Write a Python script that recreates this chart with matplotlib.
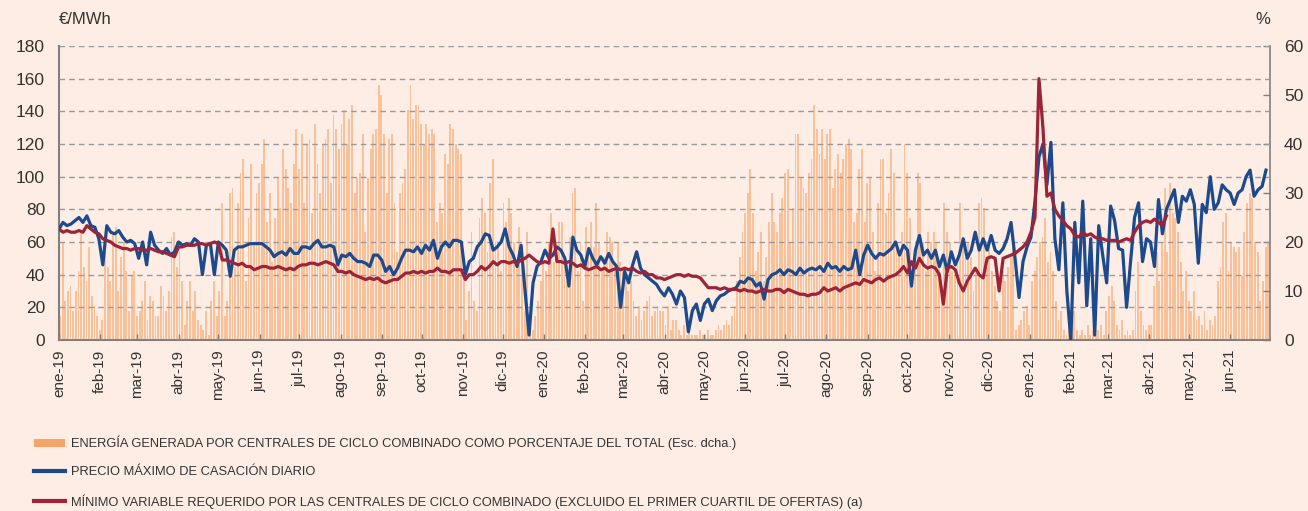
import numpy as np
import pandas as pd
import matplotlib
matplotlib.use("Agg")
import matplotlib.pyplot as plt
from matplotlib.patches import Patch
from matplotlib.lines import Line2D

# ---------------- DATA ----------------
# Daily max clearing price (EUR/MWh), sampled every 3 days from 2019-01-01
precio_max = [
    68, 72, 70, 71, 73, 75, 72, 76, 70, 69,
    62, 46, 70, 66, 65, 67, 63, 60, 61, 59,
    50, 60, 46, 66, 58, 55, 53, 56, 52, 54,
    60, 58, 59, 58, 62, 60, 40, 58, 59, 40,
    60, 58, 55, 39, 55, 57, 57, 58, 59, 59,
    59, 59, 57, 55, 51, 53, 54, 52, 56, 53,
    53, 57, 57, 56, 59, 61, 57, 57, 58, 57,
    46, 52, 51, 53, 50, 48, 48, 47, 45, 52,
    52, 49, 42, 45, 40, 44, 50, 55, 55, 54,
    57, 53, 58, 55, 61, 50, 57, 60, 57, 61,
    61, 60, 40, 48, 50, 57, 60, 65, 64, 55,
    57, 60, 68, 57, 52, 45, 58, 30, 3, 35,
    45, 48, 55, 50, 52, 57, 55, 50, 33, 63,
    55, 52, 45, 56, 50, 46, 51, 47, 53, 48,
    45, 20, 42, 35, 46, 54, 44, 40, 38, 36,
    34, 30, 27, 32, 28, 22, 30, 26, 5, 18,
    22, 12, 22, 25, 18, 24, 27, 28, 30, 31,
    32, 36, 35, 38, 37, 33, 35, 25, 37, 40,
    41, 43, 40, 43, 42, 40, 44, 41, 43, 44,
    43, 45, 42, 47, 44, 45, 42, 45, 43, 44,
    55, 40, 52, 58, 53, 50, 53, 52, 54, 56,
    60, 52, 58, 55, 33, 55, 64, 52, 55, 50,
    55, 45, 52, 42, 54, 46, 52, 62, 50, 55,
    66, 55, 62, 55, 64, 55, 53, 56, 62, 72,
    50, 26, 48, 57, 63, 85, 112, 120, 95, 121,
    62, 43, 84, 30, 0, 72, 35, 85, 21, 62,
    3, 70, 52, 35, 82, 73, 56, 55, 20, 48,
    75, 84, 48, 62, 60, 45, 86, 65, 80, 86,
    92, 72, 88, 85, 92, 83, 47, 83, 78, 100,
    80, 84, 95, 92, 90, 83, 90, 92, 100, 104,
    88, 92, 94, 104,
]

# Minimum variable required by CCGT (EUR/MWh), sampled every 3 days from 2019-01-01
minimo_variable = [
    68, 66, 67, 66, 66, 67, 66, 70, 68, 66,
    65, 62, 61, 60, 58, 57, 56, 56, 55, 56,
    56, 55, 55, 56, 55, 54, 54, 53, 52, 51,
    57, 57, 58, 58, 58, 59, 59, 58, 59, 60,
    59, 49, 49, 48, 47, 46, 47, 45, 45, 43,
    44, 45, 45, 44, 44, 45, 44, 43, 44, 43,
    45, 46, 46, 47, 47, 46, 47, 48, 47, 46,
    42, 42, 41, 42, 40, 39, 38, 37, 38, 37,
    38, 36, 35, 36, 37, 37, 39, 41, 41, 42,
    41, 42, 41, 42, 42, 44, 42, 42, 41, 43,
    43, 43, 37, 40, 40, 42, 45, 43, 45, 48,
    46, 48, 48, 47, 48, 47, 49, 50, 52, 50,
    48, 47, 48, 47, 68, 48, 48, 47, 48, 47,
    45, 46, 44, 43, 44, 45, 43, 44, 42, 43,
    44, 43, 44, 43, 44, 42, 41, 42, 40, 40,
    38, 38, 37, 38, 39, 40, 40, 39, 40, 39,
    39, 38, 35, 32, 32, 32, 31, 32, 31, 31,
    31, 30, 31, 30, 30, 29, 30, 31, 30, 30,
    31, 31, 29, 31, 30, 29, 28, 28, 27, 28,
    28, 29, 32, 30, 31, 32, 30, 32, 33, 34,
    35, 34, 37, 36, 35, 37, 38, 36, 38, 39,
    40, 42, 45, 41, 48, 44, 50, 46, 44, 45,
    44, 40, 22, 44, 45, 43, 35, 30, 36, 40,
    44, 40, 38, 50, 51, 50, 30, 50, 51, 52,
    53, 55, 57, 60, 66, 75, 160, 130, 88, 90,
    80, 76, 73, 70, 68, 64, 63, 66, 64, 65,
    63, 62, 62, 61, 61, 61, 60, 61, 62, 61,
    66, 70, 72, 73, 72, 74, 72, 70, 76,
]

# CCGT share of total generation (%), sampled every 2 days from 2019-01-01
energia_ccgt = [
    5, 20, 8, 10, 11, 6, 10, 14, 22, 15, 12, 19, 9, 7, 5,
    2, 4, 18, 15, 12, 22, 23, 10, 17, 20, 14, 6, 13, 14, 5,
    6, 8, 12, 4, 9, 8, 5, 5, 11, 9, 6, 10, 21, 22, 15,
    20, 12, 3, 8, 12, 6, 10, 4, 3, 2, 6, 1, 8, 12, 5,
    10, 28, 5, 8, 30, 31, 15, 28, 34, 37, 12, 25, 36, 20, 30,
    32, 36, 41, 24, 30, 16, 25, 33, 27, 39, 35, 31, 28, 36, 43,
    35, 42, 28, 40, 41, 26, 44, 36, 30, 40, 41, 43, 32, 46, 43,
    39, 44, 47, 40, 45, 48, 30, 33, 34, 42, 22, 33, 39, 42, 43,
    52, 50, 42, 30, 41, 42, 28, 18, 30, 32, 35, 47, 52, 45, 48,
    48, 44, 40, 44, 42, 43, 42, 24, 28, 26, 38, 36, 44, 43, 40,
    39, 38, 15, 4, 10, 22, 8, 6, 25, 29, 26, 18, 32, 37, 20,
    20, 14, 28, 24, 29, 26, 20, 16, 23, 15, 6, 22, 5, 2, 5,
    8, 12, 16, 14, 20, 26, 16, 18, 24, 24, 16, 12, 21, 30, 31,
    14, 20, 8, 23, 18, 24, 19, 28, 20, 14, 17, 22, 21, 20, 15,
    20, 16, 14, 13, 10, 12, 8, 5, 7, 4, 6, 8, 9, 5, 6,
    7, 6, 6, 3, 7, 2, 4, 4, 2, 1, 3, 1, 2, 1, 1,
    1, 2, 1, 1, 2, 1, 1, 2, 3, 2, 3, 4, 3, 5, 7,
    12, 17, 22, 26, 30, 35, 26, 14, 18, 22, 12, 17, 24, 30, 24,
    22, 26, 29, 34, 35, 20, 27, 42, 42, 33, 31, 30, 34, 37, 48,
    43, 38, 43, 37, 42, 43, 31, 35, 38, 34, 37, 40, 41, 39, 24,
    26, 35, 39, 24, 32, 33, 22, 14, 28, 37, 37, 26, 30, 39, 34,
    20, 18, 22, 40, 34, 25, 14, 18, 34, 32, 20, 14, 22, 20, 22,
    20, 16, 9, 28, 22, 20, 14, 13, 17, 28, 21, 17, 20, 17, 10,
    14, 28, 29, 27, 15, 20, 14, 11, 8, 6, 14, 12, 15, 17, 19,
    2, 3, 4, 6, 7, 3, 12, 14, 17, 20, 21, 25, 16, 18, 14,
    8, 4, 6, 2, 1, 3, 10, 6, 2, 1, 2, 1, 3, 1, 2,
    1, 2, 3, 1, 6, 9, 11, 8, 3, 2, 4, 1, 2, 1, 2,
    10, 16, 6, 3, 2, 3, 3, 11, 18, 12, 20, 31, 18, 32, 26,
    25, 22, 16, 10, 14, 8, 6, 10, 4, 5, 3, 6, 2, 4, 3,
    5, 12, 15, 24, 26, 14, 20, 19, 18, 19, 13, 22, 28, 30, 29,
    20, 18, 8, 12, 19, 20,
]

meses = ["ene", "feb", "mar", "abr", "may", "jun", "jul", "ago", "sep", "oct", "nov", "dic"]
labels_leyenda = [
    "ENERGÍA GENERADA POR CENTRALES DE CICLO COMBINADO COMO PORCENTAJE DEL TOTAL (Esc. dcha.)",
    "PRECIO MÁXIMO DE CASACIÓN DIARIO",
    "MÍNIMO VARIABLE REQUERIDO POR LAS CENTRALES DE CICLO COMBINADO (EXCLUIDO EL PRIMER CUARTIL DE OFERTAS) (a)",
]

# ---------------- STYLE ----------------
BG = "#fdede5"
C_BAR = "#f6a468"
C_BLUE = "#1c4a8c"
C_RED = "#9c2439"
C_TXT = "#333333"
C_AX = "#7f7f7f"
FONT = ["Liberation Sans", "DejaVu Sans"]
plt.rcParams["font.family"] = FONT

start = pd.Timestamp("2019-01-01")
d_line_blue = pd.date_range(start, periods=len(precio_max), freq="3D")
d_line_red = pd.date_range(start, periods=len(minimo_variable), freq="3D")
d_bar = pd.date_range(start, periods=len(energia_ccgt), freq="2D")

W, H = 1308, 511
fig = plt.figure(figsize=(W / 100, H / 100), dpi=100, facecolor=BG)
L, R, T, B = 59, 1270, 46, 340
ax = fig.add_axes([L / W, 1 - B / H, (R - L) / W, (B - T) / H])
axr = ax.twinx()
ax.set_zorder(axr.get_zorder() + 1)
ax.patch.set_visible(False)
axr.set_facecolor(BG)

# bars (right scale)
axr.bar(d_bar, energia_ccgt, width=1.4, align="edge", color=C_BAR, alpha=0.6,
        linewidth=0)
axr.set_ylim(0, 60)
axr.set_yticks(range(0, 61, 10))

# lines (left scale)
ax.plot(d_line_blue, precio_max, color=C_BLUE, lw=2.3, solid_joinstyle="round", zorder=3)
ax.plot(d_line_red, minimo_variable, color=C_RED, lw=2.3, solid_joinstyle="round", zorder=4)
ax.set_ylim(0, 180)
ax.set_yticks(range(0, 181, 20))
ax.yaxis.grid(True, linestyle=(0, (4, 3)), color="#9a9a9a", linewidth=1.0)
ax.set_axisbelow(False)

x0, x1 = pd.Timestamp("2019-01-01"), pd.Timestamp("2021-07-01")
ax.set_xlim(x0, x1)
ticks = pd.date_range(x0, "2021-06-01", freq="MS")
ax.set_xticks(ticks)
ax.set_xticklabels([f"{meses[t.month - 1]}-{t.strftime('%y')}" for t in ticks],
                   rotation=90, fontsize=11, color=C_TXT)

ax.tick_params(axis="x", direction="in", length=4, width=1, color=C_AX, pad=7)
ax.tick_params(axis="y", length=0, pad=10, labelsize=12.5, labelcolor=C_TXT)
axr.tick_params(axis="y", direction="in", length=5, width=1, color=C_AX, pad=10,
                labelsize=12.5, labelcolor=C_TXT)

for s in ["top", "right"]:
    ax.spines[s].set_visible(False)
for s in ["left", "bottom"]:
    ax.spines[s].set_color(C_AX)
    ax.spines[s].set_linewidth(1.5)
for s in ["top", "left", "bottom"]:
    axr.spines[s].set_visible(False)
axr.spines["right"].set_color(C_AX)
axr.spines["right"].set_linewidth(1.2)

fig.text(L / W, 1 - 20 / H, "€/MWh", ha="left", va="center", fontsize=12, color=C_TXT)
fig.text(R / W, 1 - 20 / H, "%", ha="right", va="center", fontsize=12, color=C_TXT)

handles = [
    Patch(facecolor=C_BAR, edgecolor="none"),
    Line2D([], [], color=C_BLUE, lw=3),
    Line2D([], [], color=C_RED, lw=3),
]
leg = fig.legend(handles, labels_leyenda, loc="upper left",
                 bbox_to_anchor=(34 / W, 1 - 436 / H), frameon=False,
                 handlelength=2.4, handleheight=0.65, handletextpad=0.45,
                 labelspacing=1.22, borderpad=0, borderaxespad=0,
                 prop={"family": FONT, "size": 9.3})
for t in leg.get_texts():
    t.set_color(C_TXT)

fig.savefig("out.png", dpi=100, facecolor=BG)
